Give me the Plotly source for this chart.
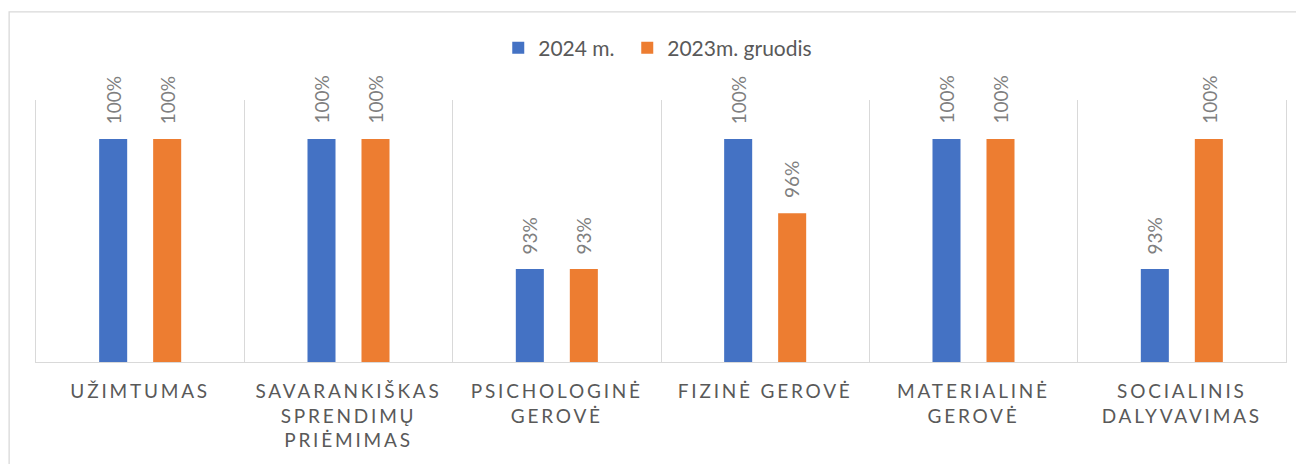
import plotly.graph_objects as go

categories = ["Užimtumas", "Savarankiškas sprendimų priėmimas", "Psichologinė gerovė",
              "Fizinė gerovė", "Materialinė gerovė", "Socialinis dalyvavimas"]
tick_lines = [["UŽIMTUMAS"], ["SAVARANKIŠKAS", "SPRENDIMŲ", "PRIĖMIMAS"],
              ["PSICHOLOGINĖ", "GEROVĖ"], ["FIZINĖ GEROVĖ"],
              ["MATERIALINĖ", "GEROVĖ"], ["SOCIALINIS", "DALYVAVIMAS"]]
series_names = ["2024 m.", "2023m. gruodis"]
values_2024 = [1.00, 1.00, 0.93, 1.00, 1.00, 0.93]
values_2023 = [1.00, 1.00, 0.93, 0.96, 1.00, 1.00]
colors = ["#4472C4", "#ED7D31"]

FONT = "Lato"
ls = "letter-spacing:2.8px"
ticktext = ["<br>".join(f"<span style='{ls}'>{ln}</span>" for ln in lines) for lines in tick_lines]

fig = go.Figure()
for name, vals, col, lg in zip(series_names, [values_2024, values_2023], colors,
                               ["legend", "legend2"]):
    fig.add_trace(go.Bar(x=categories, y=vals, name=name, marker_color=col,
                         marker_line_width=0, hoverinfo="skip", legend=lg))

annotations = []
for shift, vals in zip([-27, 27], [values_2024, values_2023]):
    for c, v in zip(categories, vals):
        annotations.append(dict(x=c, y=v, xref="x", yref="y", text=f"{v*100:.0f}%",
                                showarrow=False, textangle=-90, xanchor="center",
                                yanchor="bottom", xshift=shift, yshift=13,
                                font=dict(family=FONT, size=19, color="#7f7f7f")))

legend_style = dict(orientation="h", y=1.198, xanchor="left", yanchor="middle",
                    font=dict(family=FONT, size=21, color="#595959"),
                    itemsizing="constant", bgcolor="rgba(0,0,0,0)")

fig.update_layout(
    width=1296, height=456,
    margin=dict(l=28, r=18, t=92, b=102, autoexpand=False),
    paper_bgcolor="white", plot_bgcolor="white",
    barmode="group", bargap=0.4816, bargroupgap=0.481,
    font=dict(family=FONT, color="#595959"),
    showlegend=True,
    legend=dict(x=0.3698, **legend_style),
    legend2=dict(x=0.473, **legend_style),
    annotations=annotations,
    shapes=[dict(type="rect", xref="paper", yref="paper", x0=-0.0215, x1=1.03,
                 y0=-0.45, y1=1.336, line=dict(color="#d9d9d9", width=1.3),
                 fillcolor="rgba(0,0,0,0)", layer="below")],
)
fig.update_xaxes(type="category", tickmode="array", tickvals=categories, ticktext=ticktext,
                 tickson="boundaries", showgrid=True, gridcolor="#d9d9d9", gridwidth=1.3,
                 showline=True, linecolor="#d9d9d9", linewidth=1.3, ticks="",
                 ticklabelstandoff=12, automargin=False,
                 tickfont=dict(family=FONT, size=19, color="#595959"), tickangle=0)
fig.update_yaxes(range=[0.88, 1.021], showticklabels=False, showgrid=False, zeroline=False,
                 showline=True, mirror=True, linecolor="#d9d9d9", linewidth=1.3, ticks="")

fig.write_html("out.html")
